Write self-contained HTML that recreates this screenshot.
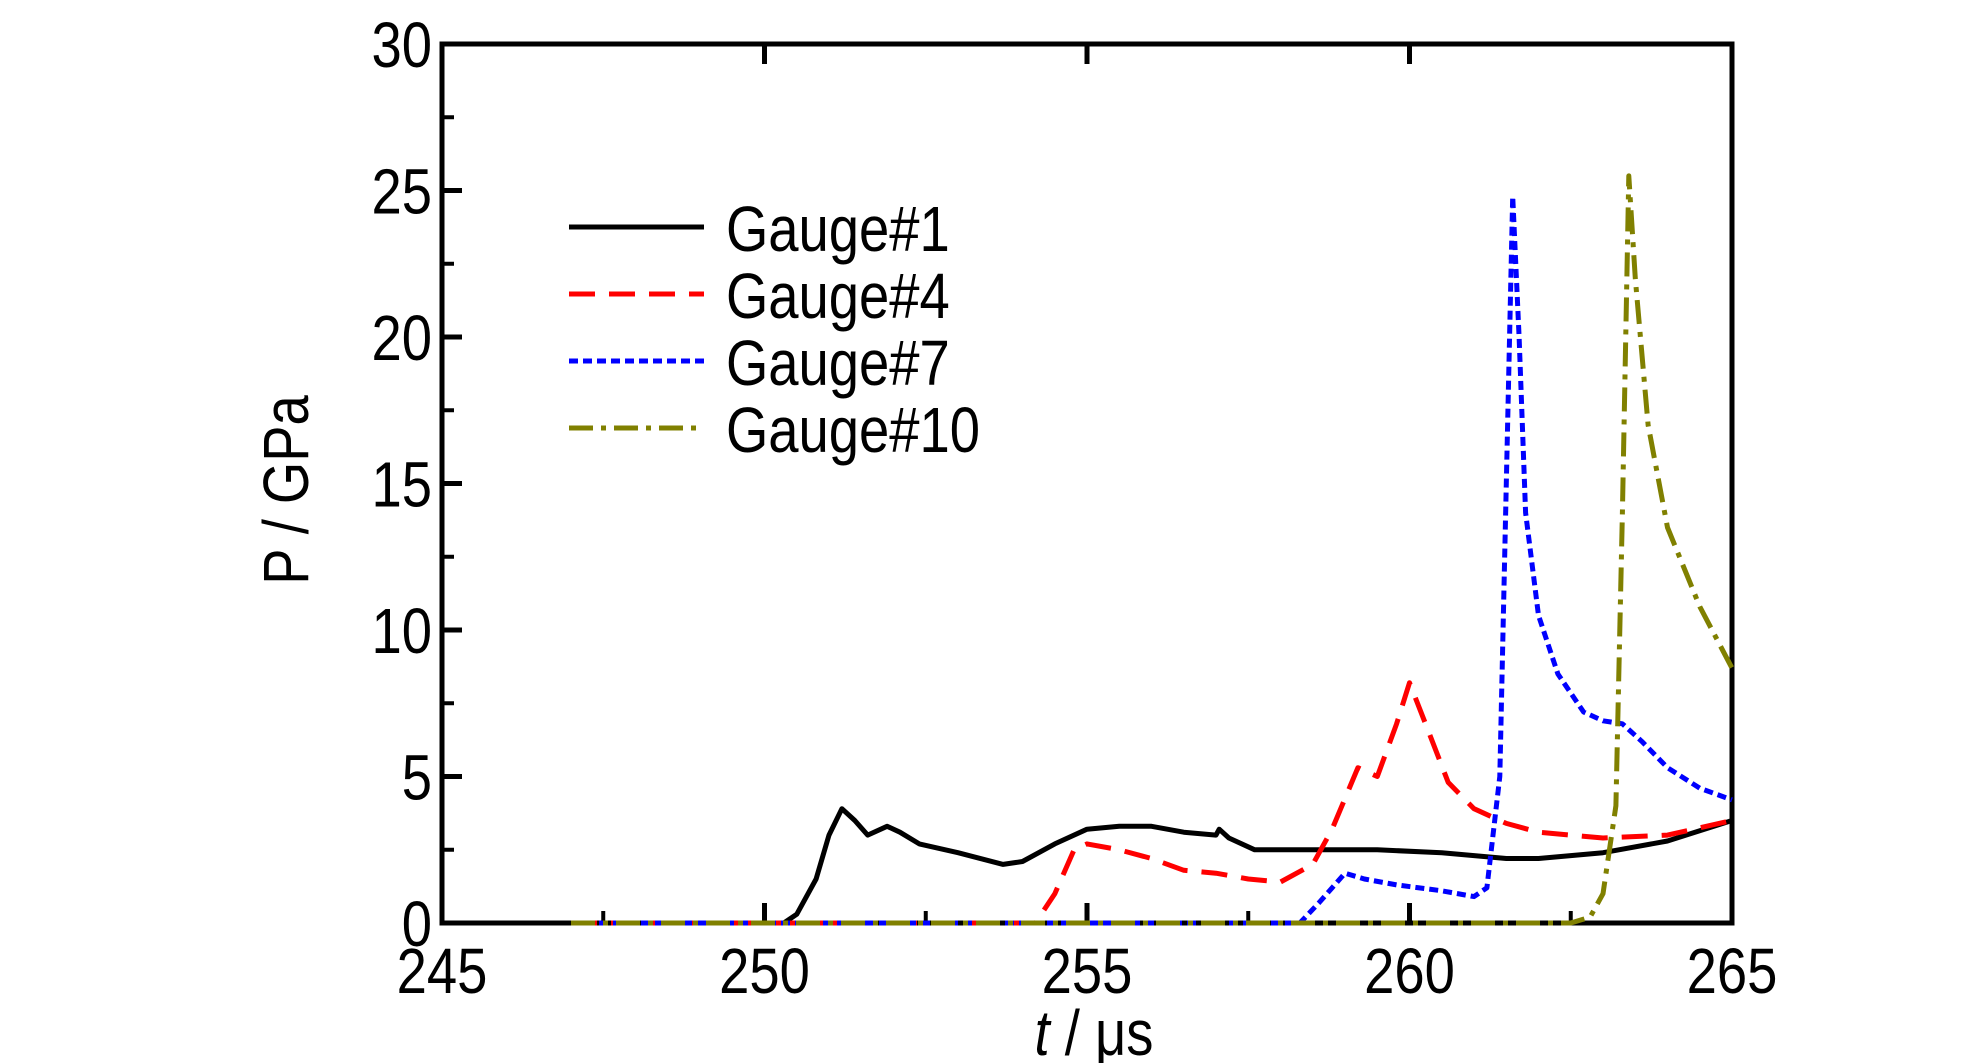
<!DOCTYPE html>
<html><head><meta charset="utf-8"><style>html,body{margin:0;padding:0;background:#fff}svg{display:block}</style></head>
<body>
<svg id="chart" width="1984" height="1063" xmlns="http://www.w3.org/2000/svg" font-family="Liberation Sans, sans-serif">
<g id="axes"></g>
<g id="series"></g>
<g id="legend"></g>
</svg>
<script>
const xTicks = [245, 250, 255, 260, 265];
const yTicks = [0, 5, 10, 15, 20, 25, 30];
const g1t = [247, 250.3, 250.5, 250.8, 251.0, 251.2, 251.4, 251.6, 251.9, 252.1, 252.4, 253.0, 253.7, 254.0, 254.5, 255.0, 255.5, 256.0, 256.5, 257.0, 257.05, 257.2, 257.6, 258.5, 259.5, 260.5, 261.5, 262.0, 263.0, 264.0, 265];
const g1p = [0, 0, 0.3, 1.5, 3.0, 3.9, 3.5, 3.0, 3.3, 3.1, 2.7, 2.4, 2.0, 2.1, 2.7, 3.2, 3.3, 3.3, 3.1, 3.0, 3.2, 2.9, 2.5, 2.5, 2.5, 2.4, 2.2, 2.2, 2.4, 2.8, 3.5];
const g4t = [247, 254.2, 254.5, 254.8, 255.0, 255.5, 256.0, 256.5, 257.0, 257.5, 258.0, 258.5, 258.8, 259.2, 259.5, 259.8, 260.0, 260.3, 260.6, 261.0, 261.5, 262.0, 263.0, 264.0, 265];
const g4p = [0, 0, 1.0, 2.5, 2.7, 2.5, 2.2, 1.8, 1.7, 1.5, 1.4, 2.0, 3.2, 5.3, 5.0, 6.8, 8.2, 6.5, 4.8, 3.9, 3.4, 3.1, 2.9, 3.0, 3.5];
const g7t = [247, 258.3, 258.6, 259.0, 259.3, 259.8, 260.5, 261.0, 261.2, 261.4, 261.5, 261.6, 261.7, 261.8, 262.0, 262.3, 262.7, 263.0, 263.3, 263.6, 264.0, 264.5, 265];
const g7p = [0, 0, 0.7, 1.7, 1.5, 1.3, 1.1, 0.9, 1.2, 5, 15, 24.8, 20, 14, 10.5, 8.5, 7.2, 6.9, 6.8, 6.2, 5.3, 4.6, 4.2];
const g10t = [247, 262.5, 262.8, 263.0, 263.2, 263.3, 263.4, 263.5, 263.7, 264.0, 264.5, 265];
const g10p = [0, 0, 0.2, 1.0, 4.0, 14, 25.5, 22.0, 17.0, 13.5, 10.8, 8.7];
const seriesNames = ["Gauge#1", "Gauge#4", "Gauge#7", "Gauge#10"];

const NS = "http://www.w3.org/2000/svg";
const L = 442, R = 1732, T = 44, B = 923;
const X = t => L + (t - 245) / 20 * (R - L);
const Y = p => B - p / 30 * (B - T);
function mk(tag, attrs, parent) { const e = document.createElementNS(NS, tag); for (const k in attrs) e.setAttribute(k, attrs[k]); parent.appendChild(e); return e; }
const axes = document.getElementById('axes');
const series = document.getElementById('series');
const legend = document.getElementById('legend');

const frame = mk('rect', {x: L, y: T, width: R - L, height: B - T, fill: 'none', stroke: '#000', 'stroke-width': 5}, axes);



function txt(s, x, y, size, anchor, parent, name, rot) {
  const e = mk('text', {'font-size': size, 'text-anchor': anchor, fill: '#000',
    transform: `translate(${x},${y})` + (rot ? ` rotate(${rot})` : '') + ' scale(0.85,1)'}, parent);
  e.textContent = s;
  
  
  return e;
}

xTicks.forEach((t, i) => {
  const x = X(t);
  const tb = mk('line', {x1: x, x2: x, y1: B, y2: B - 20, stroke: '#000', 'stroke-width': 5}, axes);
  
  
  const tt = mk('line', {x1: x, x2: x, y1: T, y2: T + 20, stroke: '#000', 'stroke-width': 5}, axes);
  
  
  if (i < xTicks.length - 1) {
    const xm = X(t + 2.5);
    const mb = mk('line', {x1: xm, x2: xm, y1: B, y2: B - 12, stroke: '#000', 'stroke-width': 4}, axes);
    
    
  }
  txt(String(t), x, 993, 64, 'middle', axes, 'x-tick-label');
});
yTicks.forEach((p, i) => {
  const y = Y(p);
  const tl = mk('line', {x1: L, x2: L + 20, y1: y, y2: y, stroke: '#000', 'stroke-width': 5}, axes);
  
  
  if (i < yTicks.length - 1) {
    const ym = Y(p + 2.5);
    const ml = mk('line', {x1: L, x2: L + 12, y1: ym, y2: ym, stroke: '#000', 'stroke-width': 4}, axes);
    
    
  }
  txt(String(p), 432, y + 23, 64, 'end', axes, 'y-tick-label');
});
txt('P / GPa', 308, 490, 64, 'middle', axes, 'y-axis-title', -90);
const xt = mk('text', {'font-size': 64, 'text-anchor': 'middle', fill: '#000', transform: 'translate(1094,1055) scale(0.85,1)'}, axes);


xt.innerHTML = '<tspan font-style="italic">t</tspan> / μs';

const styles = [
  {c: '#000', d: 'none'},
  {c: '#ff0000', d: '26 14'},
  {c: '#0000ff', d: '9 5'},
  {c: '#808000', d: '24 8 5 8'}
];
const data = [[g1t, g1p], [g4t, g4p], [g7t, g7p], [g10t, g10p]];
data.forEach((d, i) => {
  const pts = d[0].map((t, j) => X(t).toFixed(1) + ',' + Y(d[1][j]).toFixed(1)).join(' ');
  const pl = mk('polyline', {points: pts, fill: 'none', stroke: styles[i].c, 'stroke-width': 5, 'stroke-dasharray': styles[i].d, 'stroke-linejoin': 'round'}, series);
  
  
  const ly = 227 + i * 67;
  const ll = mk('line', {x1: 569, x2: 704, y1: ly, y2: ly, stroke: styles[i].c, 'stroke-width': 5, 'stroke-dasharray': styles[i].d}, legend);
  
  
  txt(seriesNames[i], 726, ly + 24, 64, 'start', legend, 'legend-entry');
});
</script>
</body></html>
